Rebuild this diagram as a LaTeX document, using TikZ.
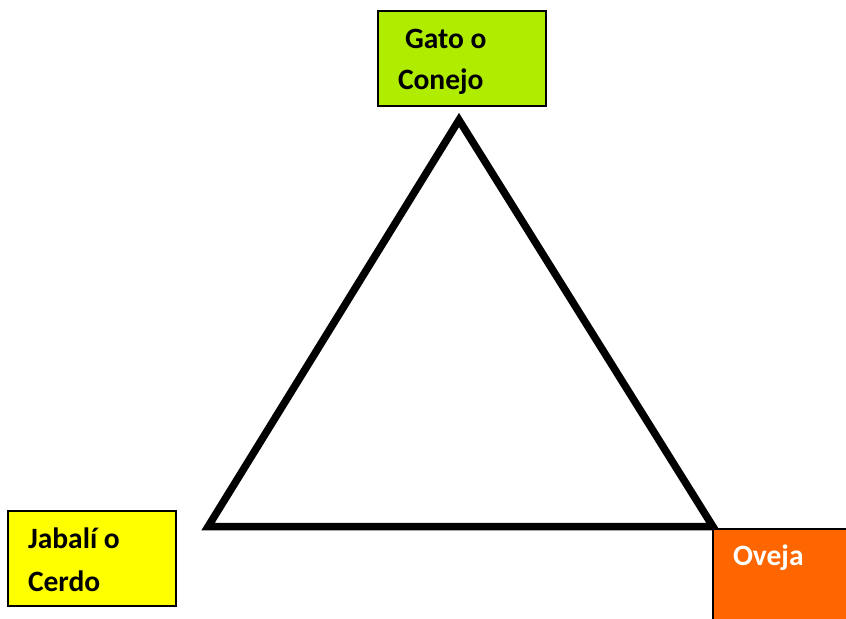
\documentclass[tikz,border=0pt]{standalone}
\usepackage{fontspec}
\setmainfont{Carlito}
\definecolor{limebox}{RGB}{176,236,0}
\definecolor{yellowbox}{RGB}{255,255,0}
\definecolor{orangebox}{RGB}{255,102,0}
\begin{document}
\begin{tikzpicture}[x=1bp,y=-1bp,
  box/.style={draw=black, line width=2bp, inner sep=0pt, outer sep=0pt},
  txt/.style={inner sep=0pt, outer sep=0pt, anchor=base west, font=\fontsize{29.5bp}{40bp}\selectfont\bfseries},
  tri/.style={draw=black, line width=7.5bp, line join=miter}]
\useasboundingbox (0,0) rectangle (846,619);
\begin{scope}
\clip (0,0) rectangle (846,619);
% triangle
\coordinate (apex) at (459,120);
\coordinate (bl) at (208,526.7);
\coordinate (br) at (713,526.7);
\draw[tri] (apex) -- (bl) -- (br) -- cycle;
% boxes
\draw[box, fill=limebox] (378,11.5) rectangle (546,106);
\node[box, draw=none, minimum width=168bp, minimum height=94.5bp] (gato) at (462,58.75) {};
\draw[box, fill=yellowbox] (8,511) rectangle (176,606);
\node[box, draw=none, minimum width=168bp, minimum height=95bp] (jabali) at (92,558.5) {};
\draw[box, fill=orangebox] (713,529) rectangle (870,650);
\node[box, draw=none, minimum width=133bp, minimum height=90bp] (oveja) at (779.5,574) {};
% texts
\node[txt] (t1) at (405,49) {Gato o};
\node[txt] (t2) at (398,90) {Conejo};
\node[txt] (t3) at (28,548) {Jabalí o};
\node[txt] (t4) at (28,591) {Cerdo};
\node[txt, text=white] (t5) at (733,565) {Oveja};
\end{scope}
\end{tikzpicture}
\end{document}
